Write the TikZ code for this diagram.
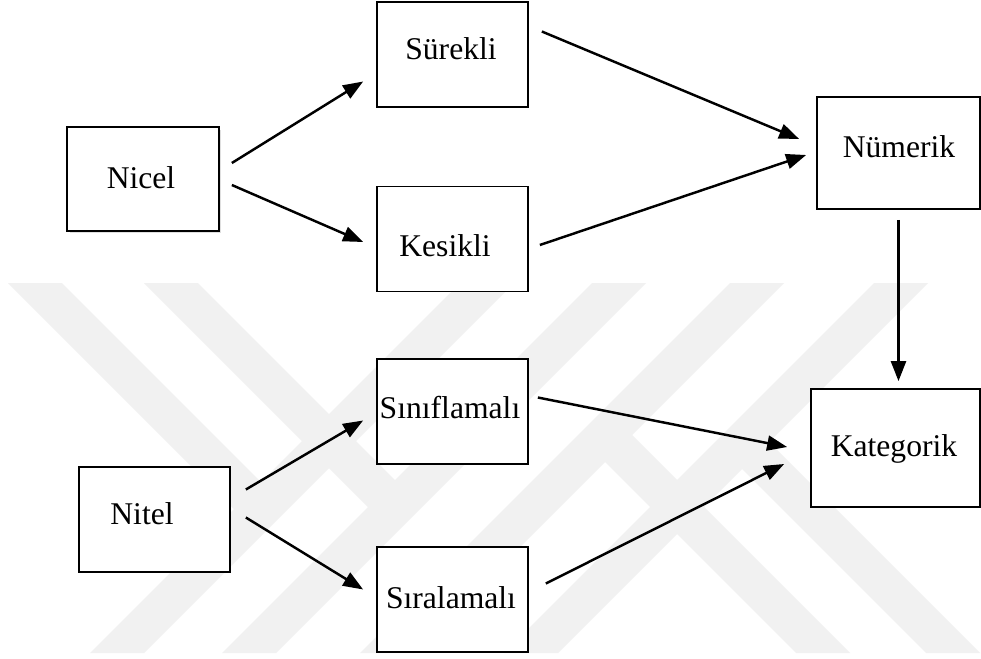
\documentclass[tikz,border=0pt]{standalone}
\usepackage{fontspec}
\setmainfont{Liberation Serif}
\usetikzlibrary{arrows.meta,calc,shadows}

\tikzset{
  box/.style={draw, fill=white, line width=1pt, inner sep=0pt,
    minimum width=3.02cm, minimum height=2.1cm},
  lbl/.style={font=\fontsize{18}{20}\selectfont, inner sep=0pt},
  conn/.style={line width=1.4pt, -{Triangle[length=0.4cm,width=0.3cm]}},
  wmark/.style={fill=gray!11, draw=none}
}

\begin{document}
\begin{tikzpicture}[x=0.02cm, y=-0.02cm]
    \useasboundingbox[fill=white] (0,0) rectangle (981,659);
    % watermark stripes
    \foreach \c in {770,902,1040,1184}
        \fill[wmark] (\c-310,283) -- (\c-256,283) -- (\c-626,653) -- (\c-680,653) -- cycle;
    \fill[wmark] (8,283) -- (62,283) -- (274.5,495.5) -- (247.5,522.5) -- cycle;
    \fill[wmark] (144,283) -- (198,283) -- (408.5,493.5) -- (381.5,520.5) -- cycle;
    \fill[wmark] (591.5,448.5) -- (618.5,421.5) -- (850,653) -- (796,653) -- cycle;
    \fill[wmark] (728.5,455.5) -- (755.5,428.5) -- (980,653) -- (926,653) -- cycle;

    % boxes
    \node[box, minimum width=3.04cm, minimum height=2.08cm,
      drop shadow={shadow xshift=0.05cm, shadow yshift=-0.05cm, opacity=0.25}] (nicel) at (143,179) {};
    \node[box] (surekli) at (452.5,54.5) {};
    \node[box] (kesikli) at (452.5,239) {};
    \node[box, minimum width=3.26cm, minimum height=2.24cm] (numerik) at (898.5,153) {};
    \node[box] (nitel) at (154.5,519.5) {};
    \node[box] (sinif) at (452.5,411.5) {};
    \node[box] (sira) at (452.5,599.5) {};
    \node[box, minimum width=3.38cm, minimum height=2.36cm] (kategorik) at (895.5,448) {};

    % labels
    \node[lbl] (nicel-t) at (141,178) {Nicel};
    \node[lbl] (surekli-t) at (451,49) {Sürekli};
    \node[lbl] (kesikli-t) at (445,246) {Kesikli};
    \node[lbl] (numerik-t) at (899,147) {Nümerik};
    \node[lbl] (nitel-t) at (142,514) {Nitel};
    \node[lbl] (sinif-t) at (450,408) {Sınıflamalı};
    \node[lbl] (sira-t) at (451,598) {Sıralamalı};
    \node[lbl] (kategorik-t) at (894,449) {Kategorik};

    % connectors
    \draw[conn] ($(nicel.east)+(12,-16)$) -- ($(surekli.west)+(-13,27)$);
    \draw[conn] ($(nicel.east)+(12,6)$) -- ($(kesikli.west)+(-13,3)$);
    \draw[conn] ($(surekli.east)+(13,-23)$) -- ($(numerik.west)+(-17,-14)$);
    \draw[conn] ($(kesikli.east)+(11,6)$) -- ($(numerik.west)+(-10,2)$);
    \draw[conn] ($(numerik.south)+(0,10)$) -- ($(kategorik.north)+(3,-7)$);
    \draw[conn] ($(nitel.east)+(15,-30)$) -- ($(sinif.west)+(-13,9)$);
    \draw[conn] ($(nitel.east)+(15,-2)$) -- ($(sira.west)+(-13,-10)$);
    \draw[conn] ($(sinif.east)+(9,-14)$) -- ($(kategorik.west)+(-23,-1)$);
    \draw[conn] ($(sira.east)+(17,-16)$) -- ($(kategorik.west)+(-26,16)$);
\end{tikzpicture}
\end{document}
